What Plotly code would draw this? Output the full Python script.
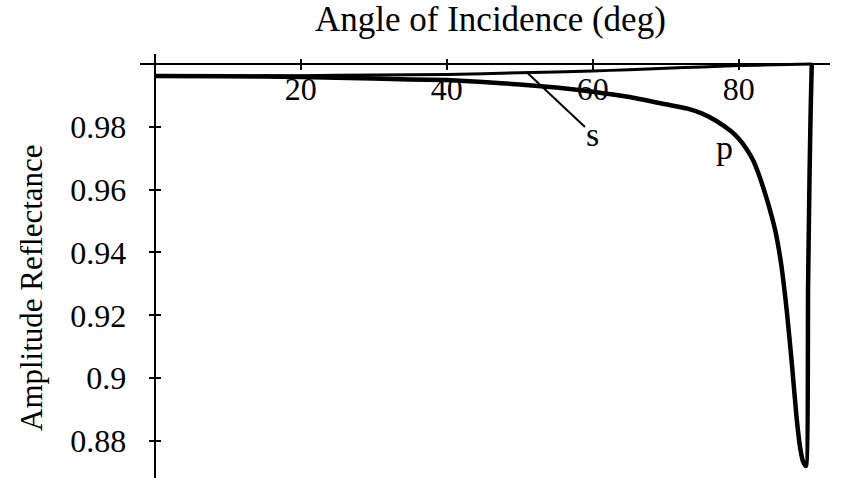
import plotly.graph_objects as go

# Amplitude reflectance vs. angle of incidence, s- and p-polarisation
angle_s = [0, 10, 20, 30, 40, 50, 60, 65, 70, 75, 80, 85, 90]
refl_s = [0.9962, 0.9962, 0.9963, 0.9965, 0.9967, 0.9972, 0.9978, 0.9982,
          0.9987, 0.9991, 0.9995, 0.9998, 1.0]

angle_p = [0, 10, 20, 30, 35, 40, 45, 50, 55, 60, 65, 70, 73, 75, 77, 79,
           80, 81, 82, 83, 84, 85, 85.8, 86.6, 87.3, 87.9, 88.4, 88.8, 89.2,
           89.5, 89.7, 89.85, 90]
refl_p = [0.9962, 0.9961, 0.9959, 0.9954, 0.9951, 0.9949, 0.9943, 0.9935,
          0.9925, 0.9912, 0.9895, 0.9872, 0.9858, 0.9842, 0.9818, 0.9785,
          0.9762, 0.9732, 0.9692, 0.9632, 0.9558, 0.9470, 0.9365, 0.9210,
          0.9040, 0.8880, 0.8780, 0.8735, 0.8720, 0.9300, 0.9650, 0.9850,
          1.0]

x_ticks = [20, 40, 60, 80]
y_ticks = [0.88, 0.90, 0.92, 0.94, 0.96, 0.98]
y_tick_text = ["0.88", "0.9", "0.92", "0.94", "0.96", "0.98"]

x_range = [-2, 92.5]
y_range = [0.8682, 1.0032]

# axis crossing: x axis runs along y = 1.0, y axis along x = 0
x_axis_pos = (1.0 - y_range[0]) / (y_range[1] - y_range[0])
y_axis_pos = (0 - x_range[0]) / (x_range[1] - x_range[0])

serif = "Liberation Serif, Times New Roman, serif"

fig = go.Figure()
fig.add_trace(go.Scatter(x=angle_s, y=refl_s, mode="lines", name="s",
                         line=dict(color="black", width=3, shape="spline",
                                   smoothing=0.6)))
fig.add_trace(go.Scatter(x=angle_p, y=refl_p, mode="lines", name="p",
                         line=dict(color="black", width=4.5, shape="spline",
                                   smoothing=0.5)))

# ticks cross the axis lines: the main axes draw one half, overlays the other
axis_common = dict(showgrid=False, zeroline=False, color="black",
                   tickcolor="black", tickwidth=2, ticklen=5)

fig.update_layout(
    width=853, height=478,
    margin=dict(l=140, r=23, t=54, b=0),
    paper_bgcolor="white", plot_bgcolor="white",
    showlegend=False,
    font=dict(family=serif, color="black", size=30),
    xaxis=dict(range=x_range, anchor="free", position=x_axis_pos,
               side="bottom", showline=True, linewidth=2, linecolor="black",
               ticks="outside", tickvals=x_ticks,
               ticktext=[str(v) for v in x_ticks],
               tickfont=dict(family=serif, size=32), ticklabelstandoff=-8,
               **axis_common),
    xaxis2=dict(range=x_range, overlaying="x", anchor="free",
                position=x_axis_pos, side="top", showline=False,
                ticks="outside", tickvals=x_ticks, showticklabels=False,
                **axis_common),
    yaxis=dict(range=y_range, anchor="free", position=y_axis_pos,
               side="left", showline=True, linewidth=2, linecolor="black",
               ticks="outside", tickvals=y_ticks, ticktext=y_tick_text,
               tickfont=dict(family=serif, size=32), ticklabelstandoff=16,
               **axis_common),
    yaxis2=dict(range=y_range, overlaying="y", anchor="free",
                position=y_axis_pos, side="right", showline=False,
                ticks="outside", tickvals=y_ticks, showticklabels=False,
                **axis_common),
)

# keep the overlay axes active so their ticks are drawn
fig.add_trace(go.Scatter(x=[None], y=[None], xaxis="x2", yaxis="y2",
                         showlegend=False, hoverinfo="skip"))

fig.add_annotation(text="Angle of Incidence (deg)", xref="paper", yref="paper",
                   x=(490 - 140) / 690, y=(478 - 20) / 424,
                   xanchor="center", yanchor="middle", showarrow=False,
                   font=dict(family=serif, size=35))
fig.add_annotation(text="Amplitude Reflectance", xref="paper", yref="paper",
                   x=(31 - 140) / 690, y=(478 - 287) / 424, textangle=-90,
                   xanchor="center", yanchor="middle", showarrow=False,
                   font=dict(family=serif, size=31))

# curve labels
fig.add_annotation(text="s", x=51, y=0.9973, xref="x", yref="y",
                   ax=66, ay=62, showarrow=True, arrowhead=0, arrowwidth=2,
                   arrowcolor="black", font=dict(family=serif, size=34))
fig.add_annotation(text="p", x=78.1, y=0.9735, xref="x", yref="y",
                   showarrow=False, font=dict(family=serif, size=34))

fig.write_html("out.html")
